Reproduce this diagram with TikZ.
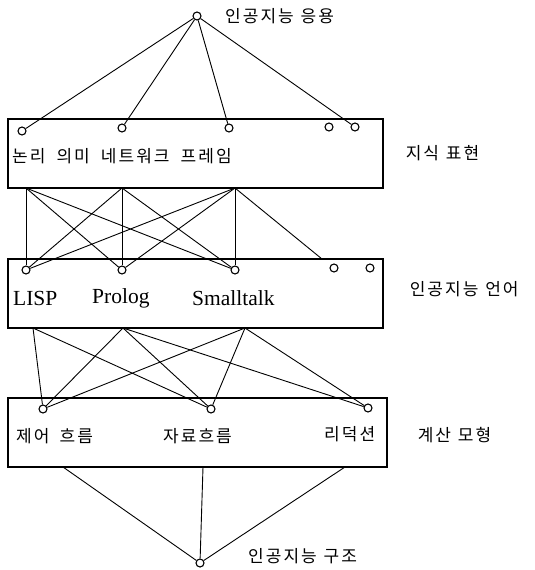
\documentclass[tikz,border=0pt]{standalone}
\usepackage{fontspec}
\setmainfont{Liberation Serif}
\newfontfamily\kofont[LetterSpace=12]{Noto Sans CJK KR}
\newfontfamily\latinfont{Liberation Serif}
\usepackage{tikz}
\usetikzlibrary{positioning}

\begin{document}
\begin{tikzpicture}[
    x=1pt, y=-1pt,
    node distance=22pt,
    every node/.style={font=\kofont\fontsize{17}{20}\selectfont},
    layerbox/.style={
        rectangle,
        draw=black,
        line width=1.2pt,
        minimum width=375pt,
        minimum height=69pt,
        inner sep=0pt
    },
    portdot/.style={
        circle,
        draw=black,
        line width=1.1pt,
        fill=white,
        inner sep=0pt,
        minimum size=8pt
    },
    boxtext/.style={anchor=west, inner sep=0pt},
    wordtext/.style={anchor=west, inner sep=0pt, font=\latinfont\fontsize{21.5}{25}\selectfont},
    link/.style={line width=0.9pt}
]
\useasboundingbox (0,0) rectangle (535,570);

% layers
\node[layerbox] (know) at (195.5,153.5) {};
\node[layerbox] (lang) at (195.5,293.5) {};
\node[layerbox, minimum width=379pt] (model) at (197.5,432.5) {};

% top and bottom points
\node[portdot] (app) at (197,16) {};
\node[portdot] (arch) at (200,563) {};
\node[right=28pt of app.center, boxtext] (applbl) {인공지능\hspace{0.4em}응용};
\node[right=48pt of arch.center, boxtext, yshift=7pt] (archlbl) {인공지능\hspace{0.4em}구조};

% knowledge representation
\node[portdot] (k1) at (22,131) {};
\node[portdot] (k2) at (122,128) {};
\node[portdot] (k3) at (229,128) {};
\node[portdot] (k4) at (329,127) {};
\node[portdot] (k5) at (355,127) {};
\node[boxtext] (knowtxt) at (12,156) {논리\hspace{0.65em}의미\hspace{0.65em}네트워크\hspace{0.65em}프레임};
\node[right=of know, boxtext] (knowlbl) {지식\hspace{0.4em}표현};
\coordinate (kb1) at (26,188);
\coordinate (kb2) at (122,188);
\coordinate (kb3) at (235,188);

% languages
\node[portdot] (l1) at (26,270) {};
\node[portdot] (l2) at (122,270) {};
\node[portdot] (l3) at (235,270) {};
\node[portdot] (l4) at (334,268) {};
\node[portdot] (l5) at (370,268) {};
\node[wordtext] (lisp) at (13,298) {LISP};
\node[wordtext] (prolog) at (92,298) {Prolog};
\node[wordtext] (smalltalk) at (192,298) {Smalltalk};
\node[right=26pt of lang, boxtext, yshift=4pt] (langlbl) {인공지능\hspace{0.4em}언어};
\coordinate (lt) at (322,259);
\coordinate (lb1) at (33,328);
\coordinate (lb2) at (123,328);
\coordinate (lb3) at (245,328);

% computation models
\node[portdot] (m1) at (43,409) {};
\node[portdot] (m2) at (211,409) {};
\node[portdot] (m3) at (368,408) {};
\node[boxtext] (ctrl) at (16,436) {제어\hspace{0.6em}흐름};
\node[boxtext] (data) at (163,436) {자료흐름};
\node[boxtext] (redu) at (324,434) {리덕션};
\node[right=30pt of model, boxtext, yshift=-3pt] (modellbl) {계산\hspace{0.4em}모형};
\coordinate (mb1) at (63,467);
\coordinate (mb2) at (203,467);
\coordinate (mb3) at (345,467);

% connections
\foreach \k in {k1,k2,k3,k5}
    \draw[link] (app) -- (\k);
\foreach \a in {kb1,kb2,kb3}
    \foreach \b in {l1,l2,l3}
        \draw[link] (\a) -- (\b);
\draw[link] (kb3) -- (lt);
\draw[link] (lb1) -- (m1);
\draw[link] (lb1) -- (m2);
\foreach \a in {lb2,lb3}
    \foreach \b in {m1,m2,m3}
        \draw[link] (\a) -- (\b);
\foreach \m in {mb1,mb2,mb3}
    \draw[link] (\m) -- (arch);

\end{tikzpicture}
\end{document}
